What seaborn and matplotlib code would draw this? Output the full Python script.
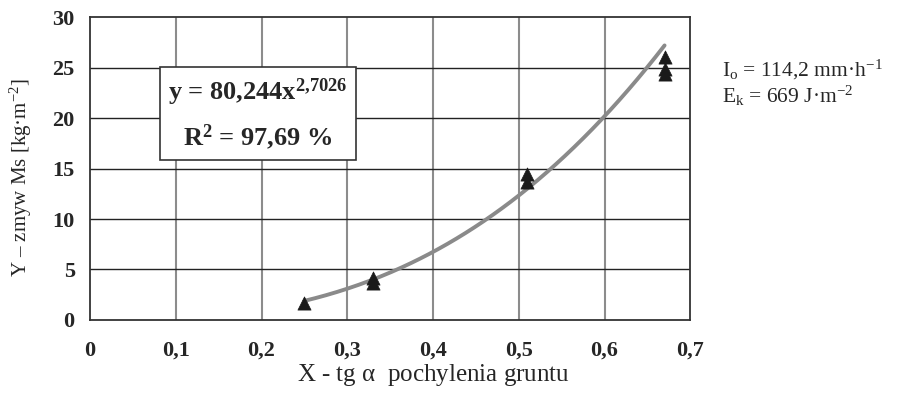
import numpy as np
import pandas as pd
import matplotlib
matplotlib.use("Agg")
import matplotlib.pyplot as plt
import seaborn as sns

# data
x_vals = [0.25, 0.33, 0.33, 0.51, 0.51, 0.67, 0.67, 0.67]
y_vals = [1.7, 3.7, 4.2, 13.7, 14.5, 26.0, 24.9, 24.4]
coef_a = 80.244
coef_b = 2.7026
fit_from = 0.25
fit_to = 0.67
x_ticks = [0, 0.1, 0.2, 0.3, 0.4, 0.5, 0.6, 0.7]
x_tick_labels = ["0", "0,1", "0,2", "0,3", "0,4", "0,5", "0,6", "0,7"]
y_ticks = [0, 5, 10, 15, 20, 25, 30]
y_tick_labels = ["0", "5", "10", "15", "20", "25", "30"]

sns.set_style("white")
plt.rcParams['font.family'] = ['Liberation Serif', 'DejaVu Serif']
plt.rcParams['mathtext.fontset'] = 'custom'
plt.rcParams['mathtext.rm'] = 'Liberation Serif'
plt.rcParams['mathtext.it'] = 'Liberation Serif'
plt.rcParams['mathtext.bf'] = 'Liberation Serif:bold'

fig = plt.figure(figsize=(9, 4.08), dpi=100)
ax = fig.add_axes([0.1, 0.2157, 0.667, 0.7426])

df = pd.DataFrame({"x": x_vals, "y": y_vals})
xf = np.linspace(fit_from, fit_to, 200)
fit = pd.DataFrame({"x": xf, "y": coef_a * xf ** coef_b})

sns.lineplot(data=fit, x="x", y="y", ax=ax, color="#8a8a8a", lw=2.8, zorder=3)
sns.scatterplot(data=df, x="x", y="y", ax=ax, marker="^", color="#1a1a1a",
                s=90, edgecolor="#1a1a1a", linewidth=0.5, zorder=4)

ax.set_xlim(0, 0.7)
ax.set_ylim(0, 30)
ax.set_xticks(x_ticks)
ax.set_xticklabels(x_tick_labels, fontweight="bold", fontsize=16)
ax.set_yticks(y_ticks)
ax.set_yticklabels(y_tick_labels, fontweight="bold", fontsize=16)
ax.tick_params(axis="x", length=0, pad=15)
ax.tick_params(axis="y", length=0, pad=11)

for v in x_ticks[1:-1]:
    ax.axvline(v, color="#8c8c8c", lw=1.5, zorder=1)
for v in y_ticks[1:-1]:
    ax.axhline(v, color="#222222", lw=1.0, zorder=1)
for s in ax.spines.values():
    s.set_color("#333333")
    s.set_linewidth(1.3)

ax.set_xlabel(r"X - tg $\alpha$  pochylenia gruntu", fontsize=18)
ax.xaxis.set_label_coords(0.572, -0.14)
ax.set_ylabel(r"Y – zmyw Ms [kg·m$^{-2}$]", fontsize=15)
ax.yaxis.set_label_coords(-0.093, 0.47)

ax.text(0.28, 0.68, "y = 80,244x$^{\\mathbf{2{,}7026}}$\nR$^{\\mathbf{2}}$ = 97,69 %",
        transform=ax.transAxes, fontsize=19, fontweight="bold", ha="center", va="center",
        linespacing=1.6,
        bbox=dict(boxstyle="square,pad=0.32", facecolor="white", edgecolor="#333333", lw=1.2),
        zorder=5)

fig.text(0.802, 0.828, "I$_\\mathrm{o}$ = 114,2 mm·h$^{-1}$", fontsize=15.5, ha="left", va="center")
fig.text(0.802, 0.766, "E$_\\mathrm{k}$ = 669 J·m$^{-2}$", fontsize=15.5, ha="left", va="center")

fig.savefig("out.png", dpi=100, facecolor="white")
